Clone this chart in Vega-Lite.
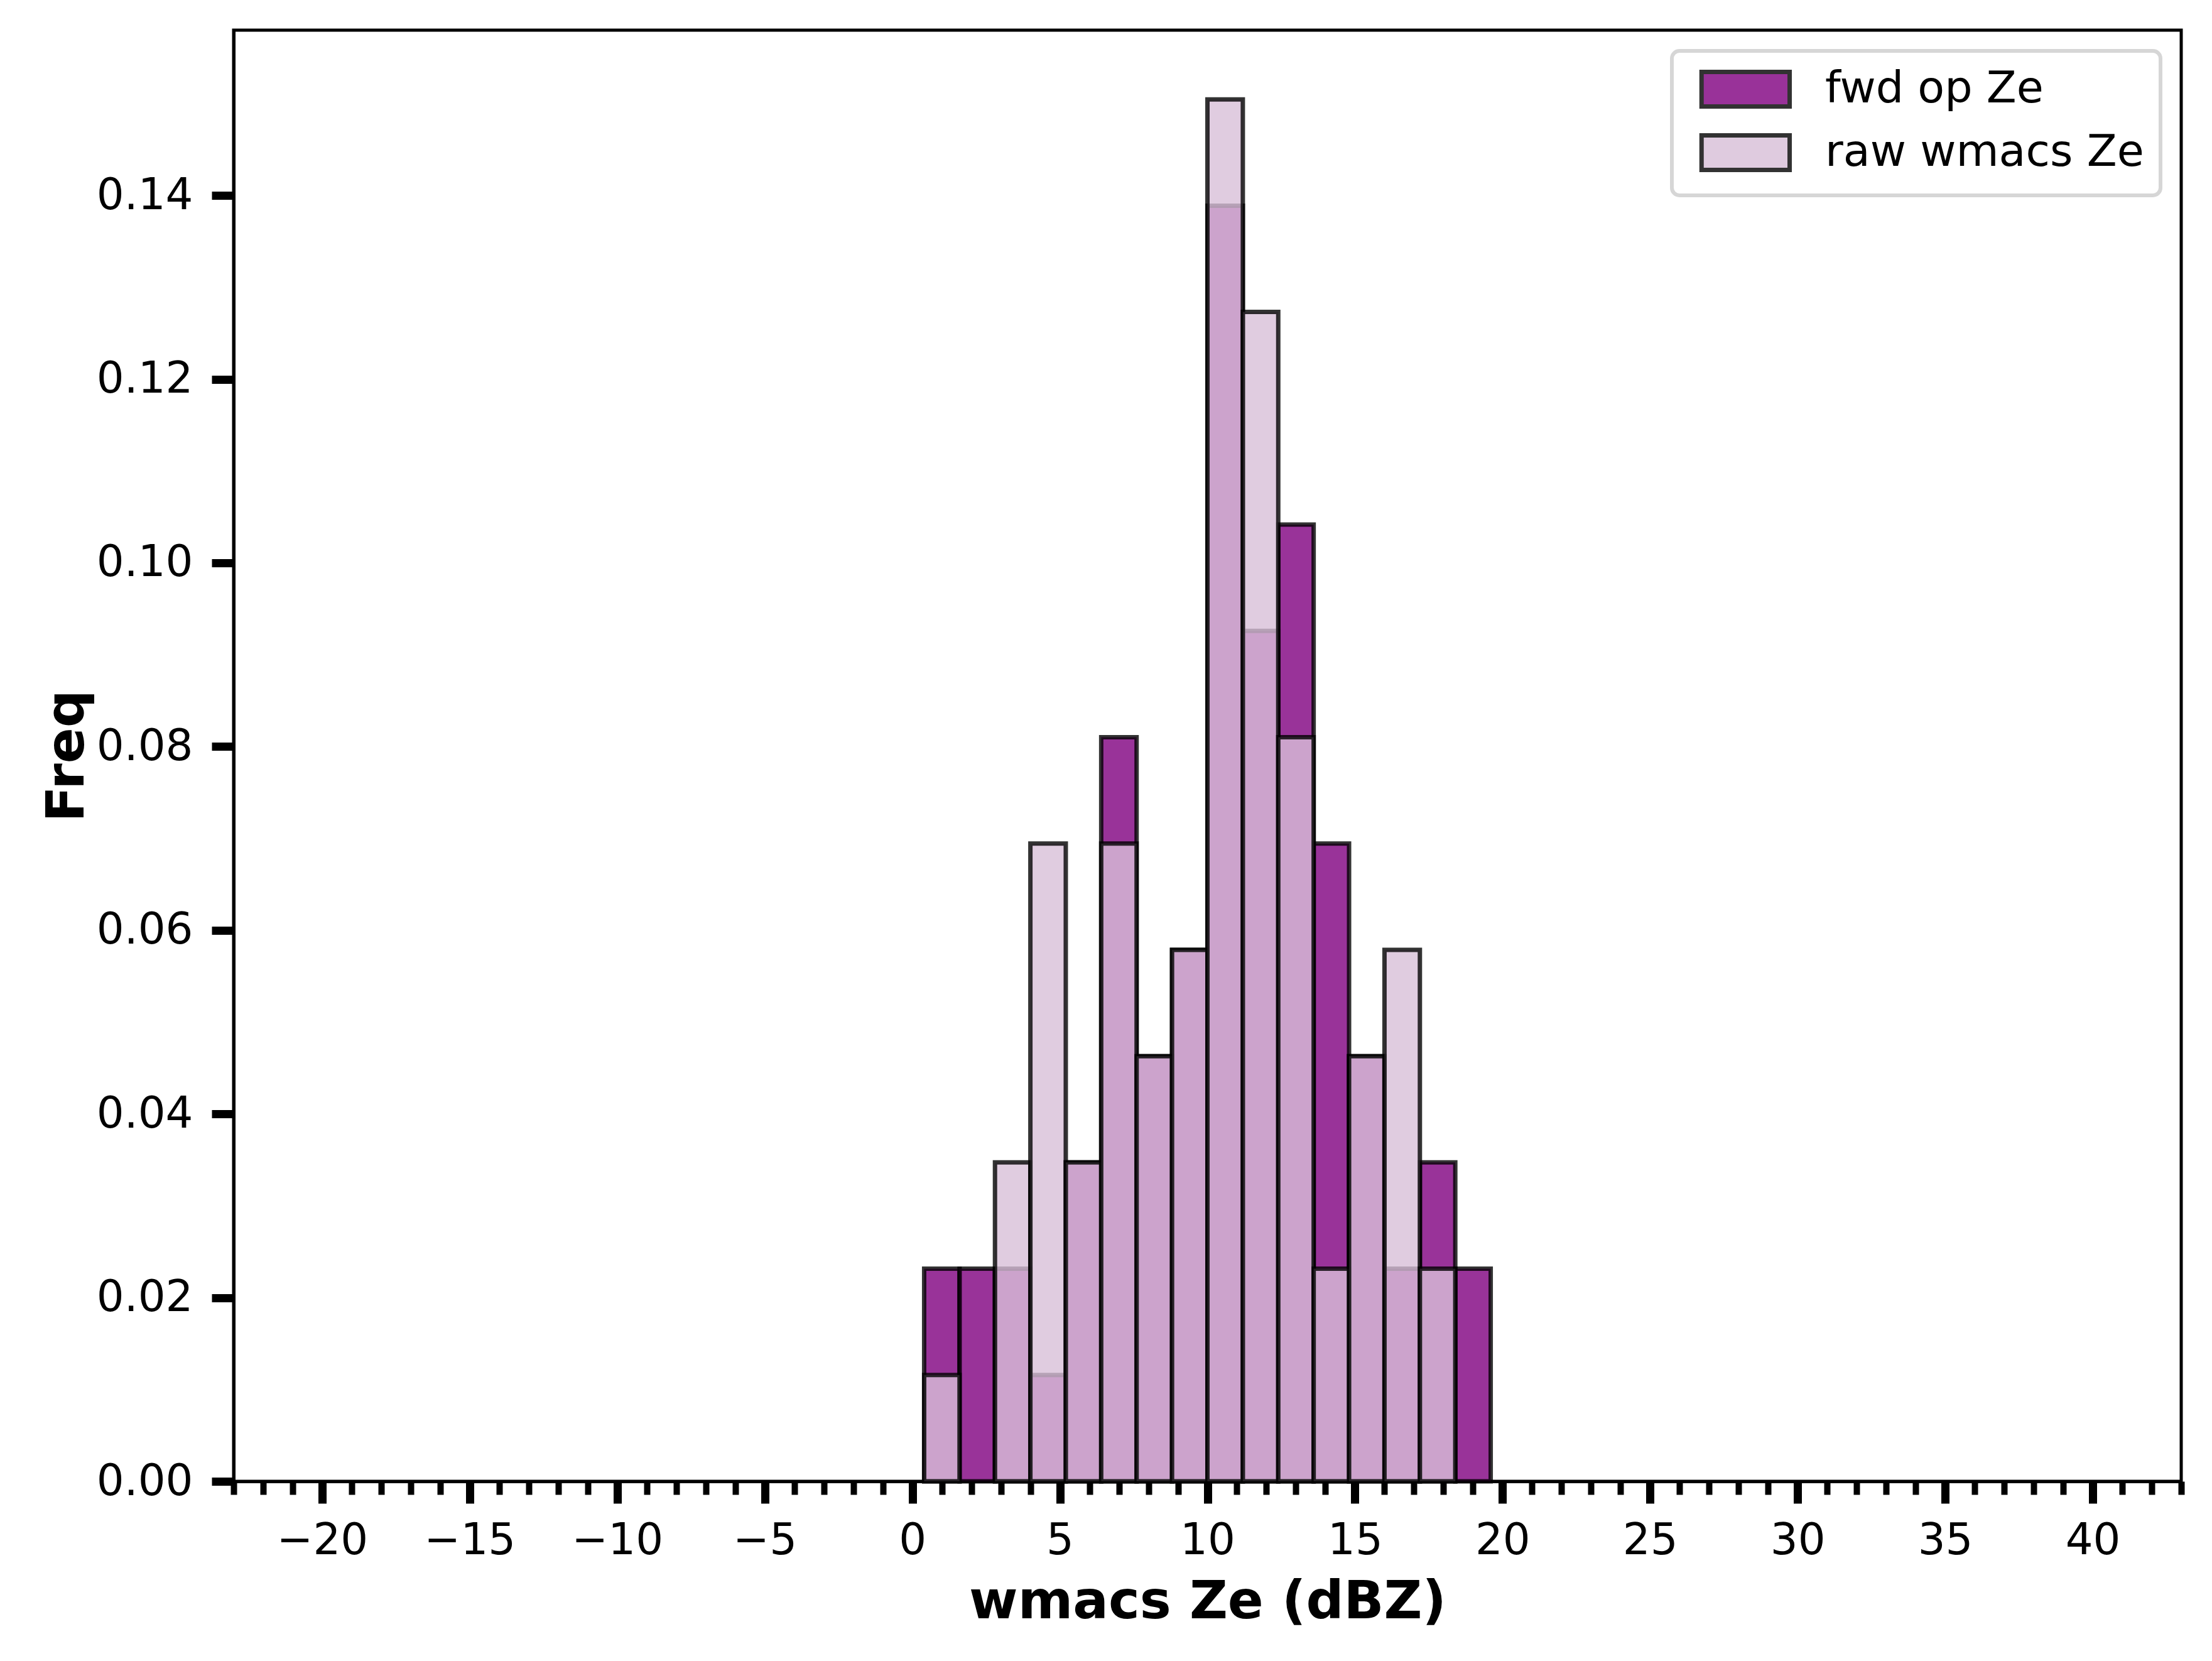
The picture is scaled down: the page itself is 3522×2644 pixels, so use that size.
{
  "$schema": "https://vega.github.io/schema/vega-lite/v6.json",
  "autosize": "none",
  "padding": {"left": 372, "top": 48, "right": 49, "bottom": 286},
  "width": 3101,
  "height": 2310,
  "background": "white",
  "config": {
    "view": {"stroke": "#000", "strokeWidth": 5},
    "font": "DejaVu Sans",
    "axis": {
      "labelFont": "DejaVu Sans",
      "titleFont": "DejaVu Sans",
      "labelColor": "#000",
      "titleColor": "#000",
      "tickColor": "#000",
      "domainColor": "#000",
      "domainWidth": 5,
      "grid": false,
      "zindex": 1
    }
  },
  "data": {
    "values": [
      {"bin_start": 0.4, "bin_end": 1.6, "series": "fwd op Ze", "freq": 0.023148},
      {"bin_start": 1.6, "bin_end": 2.8, "series": "fwd op Ze", "freq": 0.023148},
      {"bin_start": 2.8, "bin_end": 4.0, "series": "fwd op Ze", "freq": 0.023148},
      {"bin_start": 4.0, "bin_end": 5.2, "series": "fwd op Ze", "freq": 0.011574},
      {"bin_start": 5.2, "bin_end": 6.4, "series": "fwd op Ze", "freq": 0.034722},
      {"bin_start": 6.4, "bin_end": 7.6, "series": "fwd op Ze", "freq": 0.081019},
      {"bin_start": 7.6, "bin_end": 8.8, "series": "fwd op Ze", "freq": 0.046296},
      {"bin_start": 8.8, "bin_end": 10.0, "series": "fwd op Ze", "freq": 0.05787},
      {"bin_start": 10.0, "bin_end": 11.2, "series": "fwd op Ze", "freq": 0.138889},
      {"bin_start": 11.2, "bin_end": 12.4, "series": "fwd op Ze", "freq": 0.092593},
      {"bin_start": 12.4, "bin_end": 13.6, "series": "fwd op Ze", "freq": 0.104167},
      {"bin_start": 13.6, "bin_end": 14.8, "series": "fwd op Ze", "freq": 0.069444},
      {"bin_start": 14.8, "bin_end": 16.0, "series": "fwd op Ze", "freq": 0.046296},
      {"bin_start": 16.0, "bin_end": 17.2, "series": "fwd op Ze", "freq": 0.023148},
      {"bin_start": 17.2, "bin_end": 18.4, "series": "fwd op Ze", "freq": 0.034722},
      {"bin_start": 18.4, "bin_end": 19.6, "series": "fwd op Ze", "freq": 0.023148},
      {"bin_start": 0.4, "bin_end": 1.6, "series": "raw wmacs Ze", "freq": 0.011574},
      {"bin_start": 2.8, "bin_end": 4.0, "series": "raw wmacs Ze", "freq": 0.034722},
      {"bin_start": 4.0, "bin_end": 5.2, "series": "raw wmacs Ze", "freq": 0.069444},
      {"bin_start": 5.2, "bin_end": 6.4, "series": "raw wmacs Ze", "freq": 0.034722},
      {"bin_start": 6.4, "bin_end": 7.6, "series": "raw wmacs Ze", "freq": 0.069444},
      {"bin_start": 7.6, "bin_end": 8.8, "series": "raw wmacs Ze", "freq": 0.046296},
      {"bin_start": 8.8, "bin_end": 10.0, "series": "raw wmacs Ze", "freq": 0.05787},
      {"bin_start": 10.0, "bin_end": 11.2, "series": "raw wmacs Ze", "freq": 0.150463},
      {"bin_start": 11.2, "bin_end": 12.4, "series": "raw wmacs Ze", "freq": 0.127315},
      {"bin_start": 12.4, "bin_end": 13.6, "series": "raw wmacs Ze", "freq": 0.081019},
      {"bin_start": 13.6, "bin_end": 14.8, "series": "raw wmacs Ze", "freq": 0.023148},
      {"bin_start": 14.8, "bin_end": 16.0, "series": "raw wmacs Ze", "freq": 0.046296},
      {"bin_start": 16.0, "bin_end": 17.2, "series": "raw wmacs Ze", "freq": 0.05787},
      {"bin_start": 17.2, "bin_end": 18.4, "series": "raw wmacs Ze", "freq": 0.023148}
    ]
  },
  "mark": {
    "type": "bar",
    "fillOpacity": 0.8,
    "stroke": "#000",
    "strokeOpacity": 0.8,
    "strokeWidth": 7
  },
  "encoding": {
    "x": {
      "field": "bin_start",
      "type": "quantitative",
      "scale": {"domain": [-23, 43], "nice": false, "zero": false},
      "axis": {
        "title": "wmacs Ze (dBZ)",
        "titleFontSize": 84,
        "titleFontWeight": "bold",
        "titlePadding": 22,
        "values": [-23, -22, -21, -20, -19, -18, -17, -16, -15, -14, -13, -12, -11, -10, -9, -8, -7, -6, -5, -4, -3, -2, -1, 0, 1, 2, 3, 4, 5, 6, 7, 8, 9, 10, 11, 12, 13, 14, 15, 16, 17, 18, 19, 20, 21, 22, 23, 24, 25, 26, 27, 28, 29, 30, 31, 32, 33, 34, 35, 36, 37, 38, 39, 40, 41, 42, 43],
        "labelExpr": "datum.value % 5 === 0 ? replace(datum.label, '-', '\u2212') : ''",
        "labelOverlap": false,
        "labelFlush": false,
        "labelFontSize": 69,
        "labelPadding": 25,
        "tickSize": {"condition": {"test": "datum.value % 5 === 0", "value": 35}, "value": 21},
        "tickWidth": {"condition": {"test": "datum.value % 5 === 0", "value": 13}, "value": 10}
      }
    },
    "x2": {"field": "bin_end"},
    "y": {
      "field": "freq",
      "type": "quantitative",
      "stack": null,
      "scale": {"domain": [0, 0.158], "nice": false},
      "axis": {
        "title": "Freq",
        "titleFontSize": 84,
        "titleFontWeight": "bold",
        "titlePadding": 22,
        "values": [0, 0.02, 0.04, 0.06, 0.08, 0.1, 0.12, 0.14],
        "format": ".2f",
        "labelFontSize": 69,
        "labelPadding": 30,
        "tickSize": 35,
        "tickWidth": 13
      }
    },
    "y2": {"datum": 0},
    "color": {
      "field": "series",
      "type": "nominal",
      "scale": {"domain": ["fwd op Ze", "raw wmacs Ze"], "range": ["#800080", "#d8bfd8"]},
      "legend": {
        "title": null,
        "orient": "top-right",
        "offset": 33,
        "padding": 26,
        "fillColor": "white",
        "strokeColor": "#d6d6d6",
        "cornerRadius": 12,
        "labelFont": "DejaVu Sans",
        "labelFontSize": 70,
        "labelColor": "#000",
        "labelLimit": 1000,
        "labelOffset": 148,
        "rowPadding": 17,
        "symbolType": "M-0.5,-1H4.6V1H-0.5Z",
        "symbolSize": 3025,
        "symbolOpacity": 0.8,
        "symbolStrokeColor": "#000",
        "symbolStrokeWidth": 7,
        "encode": {"legend": {"update": {"strokeWidth": {"value": 6}}}}
      }
    }
  }
}
